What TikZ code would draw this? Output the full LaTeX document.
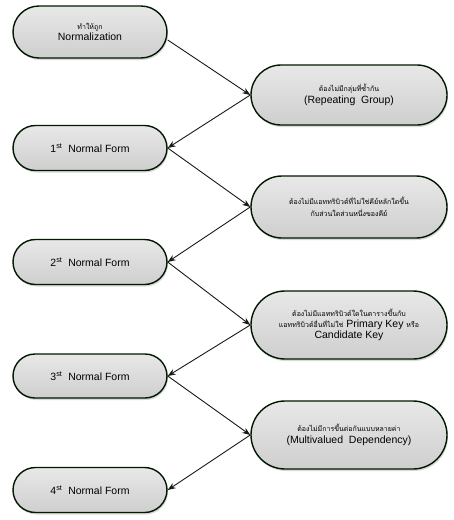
\documentclass[tikz,border=0pt]{standalone}
\usepackage{fontspec}
\setmainfont{Liberation Sans}
\newfontfamily\thaifont[Script=Thai]{Loma}
\usetikzlibrary{shapes.misc,shadows,arrows.meta}
\tikzset{
  pill/.style={rounded rectangle, draw=black!90!green, line width=1.4pt,
    top color=gray!18, bottom color=gray!38, align=center,
    drop shadow={shadow xshift=1pt, shadow yshift=-2pt, opacity=0.3},
    inner sep=2pt, font=\fontsize{10.5}{12.5}\selectfont},
  conn/.style={draw=black!90, line width=0.9pt, -{Stealth[length=8pt,width=6pt]}}
}
\newcommand{\thx}[1]{{\thaifont\fontsize{7}{9}\selectfont #1}}
\begin{document}
\begin{tikzpicture}[x=1pt,y=-1pt]
\useasboundingbox (0,0) rectangle (453,520);
\node[pill, minimum width=158pt, minimum height=52pt] (norm) at (90,32)
  {\thx{ทำให้ถูก}\\[-1pt] Normalization};
\node[pill, minimum width=200pt, minimum height=60pt] (b1) at (349,95)
  {\thx{ต้องไม่มีกลุ่มที่ซ้ำกัน}\\[-1pt] (Repeating\ \ Group)};
\node[pill, minimum width=158pt, minimum height=45pt] (nf1) at (90,148)
  {1\textsuperscript{st}\ \ Normal Form};
\node[pill, minimum width=200pt, minimum height=62pt] (b2) at (349,207)
  {\thx{ต้องไม่มีแอททริบิวต์ที่ไม่ใช่คีย์หลักใดขึ้น}\\ \thx{กับส่วนใดส่วนหนึ่งของคีย์}};
\node[pill, minimum width=158pt, minimum height=45pt] (nf2) at (90,262)
  {2\textsuperscript{st}\ \ Normal Form};
\node[pill, minimum width=200pt, minimum height=68pt] (b3) at (349,325)
  {\thx{ต้องไม่มีแอททริบิวต์ใดในตารางขึ้นกับ}\\[-2pt] \thx{แอททริบิวต์อื่นที่ไม่ใช่}\ Primary Key \thx{หรือ}\\[-1pt] Candidate Key};
\node[pill, minimum width=158pt, minimum height=44pt] (nf3) at (90,376)
  {3\textsuperscript{st}\ \ Normal Form};
\node[pill, minimum width=200pt, minimum height=68pt] (b4) at (349,435)
  {\thx{ต้องไม่มีการขึ้นต่อกันแบบหลายค่า}\\[-1pt] (Multivalued\ \ Dependency)};
\node[pill, minimum width=158pt, minimum height=45pt] (nf4) at (90,490)
  {4\textsuperscript{st}\ \ Normal Form};
\draw[conn] ([yshift=-8pt]norm.east) -- (b1.west);
\draw[conn] (b1.west) -- (nf1.east);
\draw[conn] (nf1.east) -- (b2.west);
\draw[conn] (b2.west) -- (nf2.east);
\draw[conn] (nf2.east) -- (b3.west);
\draw[conn] (b3.west) -- (nf3.east);
\draw[conn] (nf3.east) -- (b4.west);
\draw[conn] (b4.west) -- (nf4.east);
\end{tikzpicture}
\end{document}
